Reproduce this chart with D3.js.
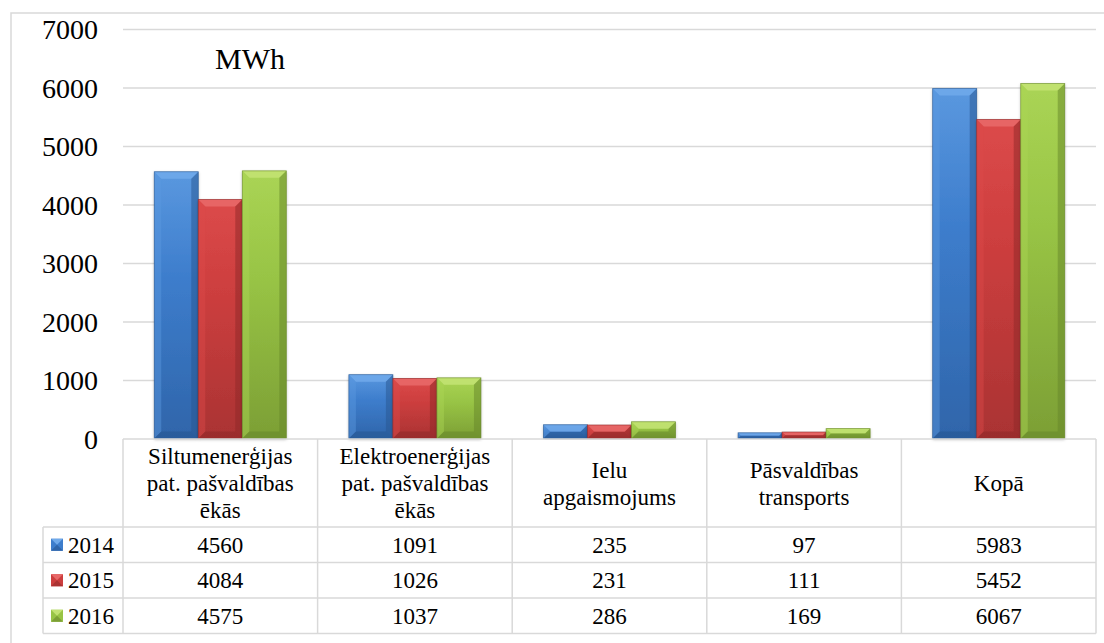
<!DOCTYPE html>
<html>
<head>
<meta charset="utf-8">
<script src="https://cdn.jsdelivr.net/npm/d3@7"></script>
<style>
  html, body { margin: 0; padding: 0; background: #fff; }
  svg { display: block; }
</style>
</head>
<body>
<svg id="chart" width="1104" height="643"></svg>
<script>
// ---------- data ----------
const categories = [
  ["Siltumenerģijas", "pat. pašvaldības", "ēkās"],
  ["Elektroenerģijas", "pat. pašvaldības", "ēkās"],
  ["Ielu", "apgaismojums"],
  ["Pāsvaldības", "transports"],
  ["Kopā"]
];
const years = ["2014", "2015", "2016"];
const values2014 = [4560, 1091, 235, 97, 5983];
const values2015 = [4084, 1026, 231, 111, 5452];
const values2016 = [4575, 1037, 286, 169, 6067];
const yTicks = [0, 1000, 2000, 3000, 4000, 5000, 6000, 7000];
const unitLabel = "MWh";

const series = [values2014, values2015, values2016];
const palette = [
  { top: "#5a98df", mid: "#3d7dcc", bot: "#2f65aa", light: "#6fa9ea", dark: "#27558f" },
  { top: "#dc4a4a", mid: "#cc3e3e", bot: "#aa3333", light: "#e86868", dark: "#8e2828" },
  { top: "#aad455", mid: "#98c445", bot: "#7c9f35", light: "#c2e272", dark: "#66862a" }
];
const FONT = "Liberation Serif";

// ---------- layout ----------
const svg = d3.select("#chart");
const plotLeft = 123, plotRight = 1096, plotTop = 29, plotBottom = 438.5;
const tableTop = 439, headerBottom = 527, rowH = 35.5, legendLeft = 43;
const gridColor = "#d9d9d9";

const catIdx = categories.map((d, i) => i);
const x0 = d3.scaleBand().domain(catIdx).range([plotLeft, plotRight]).padding(0);
const x1 = d3.scaleBand().domain(years).range([0, x0.bandwidth()]).paddingInner(0).paddingOuter(0.71);
const y = d3.scaleLinear().domain([0, 7000]).range([plotBottom, plotTop]);

function txt(g, x, yy, s, size, anchor) {
  return g.append("text").attr("x", x).attr("y", yy)
    .attr("text-anchor", anchor || "start")
    .style("font-family", FONT).style("font-size", size + "px").style("fill", "#000")
    .text(s);
}

// outer frame
svg.append("rect").attr("x", 11).attr("y", 13).attr("width", 1110).attr("height", 650)
  .attr("fill", "none").attr("stroke", gridColor).attr("stroke-width", 1.5);

// defs
const defs = svg.append("defs");
palette.forEach((p, i) => {
  const g = defs.append("linearGradient").attr("id", "grad" + i)
    .attr("x1", 0).attr("y1", 0).attr("x2", 0).attr("y2", 1);
  g.append("stop").attr("offset", "0%").attr("stop-color", p.top);
  g.append("stop").attr("offset", "40%").attr("stop-color", p.mid);
  g.append("stop").attr("offset", "100%").attr("stop-color", p.bot);
});
const f = defs.append("filter").attr("id", "shadow").attr("x", "-20%").attr("y", "-5%").attr("width", "140%").attr("height", "110%");
f.append("feDropShadow").attr("dx", 0).attr("dy", 1).attr("stdDeviation", 1.5).attr("flood-color", "#000").attr("flood-opacity", 0.3);

// gridlines + tick labels
const yAxis = d3.axisLeft(y).tickValues(yTicks).tickSize(-(plotRight - plotLeft)).tickFormat(d => d);
const ga = svg.append("g").attr("transform", `translate(${plotLeft},0)`).call(yAxis);
ga.attr("font-family", FONT).attr("font-size", 28);
ga.select(".domain").remove();
ga.selectAll(".tick line").attr("stroke", gridColor).attr("stroke-width", 1.5)
  .attr("display", d => d === 0 ? "none" : null);
ga.selectAll(".tick text").attr("x", -25).attr("dy", "0.35em")
  .style("font-family", FONT).style("font-size", "28px").style("fill", "#000");

// unit label
txt(svg, 250, 69, unitLabel, 30, "middle");

// bars
function bevelBar(g, x, yTop, w, h, p, gi) {
  const b = Math.min(7, h / 2, w / 2);
  g.append("rect").attr("x", x).attr("y", yTop).attr("width", w).attr("height", h)
    .attr("fill", `url(#grad${gi})`).attr("filter", "url(#shadow)");
  g.append("polygon").attr("points", [[x, yTop], [x + w, yTop], [x + w - b, yTop + b], [x + b, yTop + b]].join(" "))
    .attr("fill", p.light).attr("opacity", 0.9);
  g.append("polygon").attr("points", [[x, yTop], [x + b, yTop + b], [x + b, yTop + h - b], [x, yTop + h]].join(" "))
    .attr("fill", p.top).attr("opacity", 0.45);
  g.append("polygon").attr("points", [[x + w, yTop], [x + w, yTop + h], [x + w - b, yTop + h - b], [x + w - b, yTop + b]].join(" "))
    .attr("fill", p.dark).attr("opacity", 0.5);
  g.append("polygon").attr("points", [[x, yTop + h], [x + b, yTop + h - b], [x + w - b, yTop + h - b], [x + w, yTop + h]].join(" "))
    .attr("fill", p.dark).attr("opacity", 0.55);
  g.append("rect").attr("x", x).attr("y", yTop).attr("width", w).attr("height", h)
    .attr("fill", "none").attr("stroke", p.dark).attr("stroke-width", 0.8).attr("opacity", 0.7);
}

const barsG = svg.append("g");
catIdx.forEach(ci => {
  years.forEach((yr, si) => {
    const v = series[si][ci];
    const x = x0(ci) + x1(yr);
    const yt = y(v);
    bevelBar(barsG, x, yt, x1.bandwidth(), y(0) - yt, palette[si], si);
  });
});

// table
const tg = svg.append("g");
const lineAttr = sel => sel.attr("stroke", gridColor).attr("stroke-width", 1.5);
const rowsBottom = headerBottom + rowH * years.length;
tg.append("line").attr("x1", plotLeft).attr("x2", plotRight).attr("y1", tableTop).attr("y2", tableTop).call(lineAttr);
for (let r = 0; r <= years.length; r++) {
  const yy = headerBottom + r * rowH;
  tg.append("line").attr("x1", legendLeft).attr("x2", plotRight).attr("y1", yy).attr("y2", yy).call(lineAttr);
}
tg.append("line").attr("x1", legendLeft).attr("x2", legendLeft).attr("y1", headerBottom).attr("y2", rowsBottom).call(lineAttr);
catIdx.forEach(ci => {
  tg.append("line").attr("x1", x0(ci)).attr("x2", x0(ci)).attr("y1", tableTop).attr("y2", rowsBottom).call(lineAttr);
});
tg.append("line").attr("x1", plotRight).attr("x2", plotRight).attr("y1", tableTop).attr("y2", rowsBottom).call(lineAttr);

// header text
const lineGap = 27;
catIdx.forEach(ci => {
  const lines = categories[ci];
  const cx = x0(ci) + x0.bandwidth() / 2;
  const cy = (tableTop + headerBottom) / 2;
  const first = cy - (lines.length - 1) * lineGap / 2 + 8;
  lines.forEach((t, li) => txt(tg, cx, first + li * lineGap, t, 23, "middle"));
});

// data rows
years.forEach((yr, si) => {
  const cy = headerBottom + si * rowH + rowH / 2;
  const p = palette[si];
  const kx = 51, ky = cy - 6, ks = 12;
  tg.append("rect").attr("x", kx).attr("y", ky).attr("width", ks).attr("height", ks).attr("fill", p.mid);
  tg.append("polygon").attr("points", [[kx, ky], [kx + ks, ky], [kx + ks / 2, ky + ks / 2]].join(" ")).attr("fill", p.light);
  tg.append("polygon").attr("points", [[kx, ky + ks], [kx + ks, ky + ks], [kx + ks / 2, ky + ks / 2]].join(" ")).attr("fill", p.bot);
  txt(tg, 68, cy + 8, yr, 23);
  catIdx.forEach(ci => {
    txt(tg, x0(ci) + x0.bandwidth() / 2, cy + 8, series[si][ci], 23, "middle");
  });
});
</script>
</body>
</html>
